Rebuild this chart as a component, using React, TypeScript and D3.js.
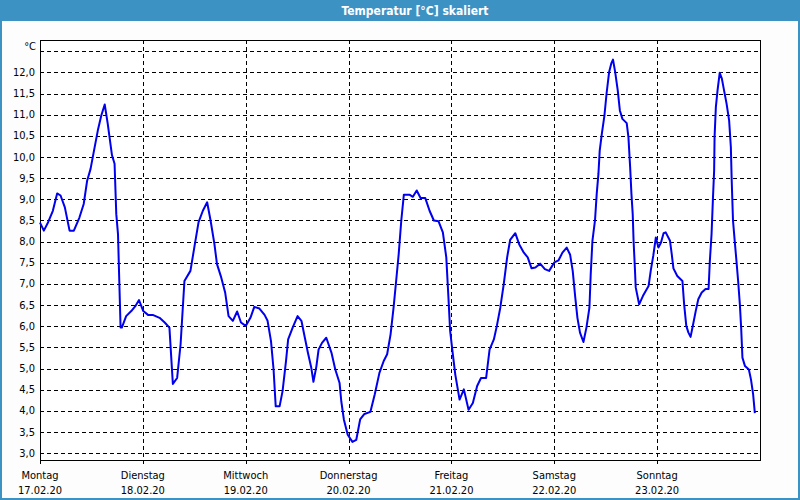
import React from "react";
import * as d3 from "d3";

const title = "Temperatur [°C] skaliert";
const unitLabel = "°C";
const dayNames = ["Montag", "Dienstag", "Mittwoch", "Donnerstag", "Freitag", "Samstag", "Sonntag"];
const dayDates = ["17.02.20", "18.02.20", "19.02.20", "20.02.20", "21.02.20", "22.02.20", "23.02.20"];
const dayHours = [0, 24, 48, 72, 96, 120, 144];
const yTickValues = [3, 3.5, 4, 4.5, 5, 5.5, 6, 6.5, 7, 7.5, 8, 8.5, 9, 9.5, 10, 10.5, 11, 11.5, 12, 12.5];
const yLabelValues = [3, 3.5, 4, 4.5, 5, 5.5, 6, 6.5, 7, 7.5, 8, 8.5, 9, 9.5, 10, 10.5, 11, 11.5, 12];

// hours since Monday 17.02.20 00:00
const hours = [
  0.0, 0.9, 1.9, 3.0, 4.0, 4.8, 5.8, 6.9, 7.9, 9.2, 10.2, 11.0, 11.8, 12.6, 13.5, 14.3, 15.1, 15.8, 16.8, 17.4,
  17.8, 18.2, 18.5, 18.8, 19.1, 20.1, 21.3, 22.2, 23.1, 24.1, 25.2, 26.3, 27.9, 29.1, 30.2, 31.0, 32.0, 32.8,
  33.7, 35.1, 36.0, 37.0, 38.0, 39.0, 39.8, 40.7, 41.3, 42.3, 43.2, 44.0, 45.0, 46.0, 46.9, 48.0, 49.1, 50.0,
  51.2, 52.4, 53.1, 53.9, 54.5, 55.0, 55.9, 56.6, 57.4, 57.9, 59.0, 60.1,
  61.0, 61.8, 62.5, 63.3, 63.8, 64.5, 65.0, 65.8, 66.8, 68.0, 68.9, 69.9, 70.3, 70.9, 71.8, 72.9, 73.8, 74.7,
  75.7, 77.1, 78.1, 79.2, 80.2, 81.0, 81.8, 82.5, 83.1, 83.7, 84.3, 84.9, 86.2, 87.0, 87.9, 88.8, 89.9, 90.9,
  91.9, 93.0, 94.0, 94.8, 95.3, 95.7, 96.2, 96.9, 97.9, 98.9, 100.0, 101.0, 102.0, 102.9, 104.1, 104.9, 105.9,
  106.6, 107.4, 108.2, 109.0, 109.7, 110.9, 111.8, 112.9, 113.8, 114.7, 115.6, 116.7, 117.8, 118.8,
  120.0, 121.0, 121.9, 122.9, 123.7, 124.3, 124.9, 125.4, 126.0, 126.8, 127.5, 128.2, 128.5, 128.9, 129.5,
  129.9, 130.3, 130.6, 131.1, 131.7, 132.2, 132.8, 133.3, 133.7, 134.2, 134.8, 135.3, 135.9, 136.9, 137.3,
  137.7, 138.0, 138.3, 138.5, 138.8, 139.0, 139.8, 140.7, 142.0, 142.5, 143.1, 143.7, 144.3, 144.9, 145.5,
  146.0, 147.0, 147.4, 147.8, 148.7, 149.9, 150.3, 150.8, 151.3, 151.8, 152.4, 153.0, 153.6, 154.4, 155.3,
  156.0, 156.3, 156.7, 157.0, 157.3, 157.4, 157.7, 158.1, 158.6, 159.1, 159.6, 160.2, 160.8, 161.2, 161.4,
  161.7, 162.1, 162.5, 162.9, 163.3, 163.6, 163.9, 164.5, 165.4, 165.9, 166.4, 166.8,
];

const temps = [
  8.45, 8.26, 8.46, 8.73, 9.14, 9.09, 8.81, 8.26, 8.26, 8.57, 8.89, 9.44, 9.72, 10.15, 10.63, 10.98, 11.24, 10.79, 10.04, 9.84,
  8.65, 8.18, 7.07, 5.97, 5.97, 6.24, 6.36, 6.47, 6.62, 6.36, 6.27, 6.27, 6.2, 6.09, 5.97, 4.64, 4.78, 5.57,
  7.07, 7.31, 7.86, 8.46, 8.73, 8.93, 8.5, 7.94, 7.47, 7.15, 6.8, 6.24, 6.13, 6.35, 6.09, 6.01, 6.2, 6.46,
  6.42, 6.27, 6.13, 5.65, 4.98, 4.11, 4.11, 4.47, 5.18, 5.69, 5.98, 6.24,
  6.13, 5.73, 5.38, 5.02, 4.69, 5.06, 5.45, 5.61, 5.73, 5.38, 4.98, 4.66, 4.23, 3.8, 3.44, 3.27, 3.32, 3.8,
  3.93, 3.98, 4.39, 4.9, 5.18, 5.34, 5.81, 6.44, 7.07, 7.71, 8.5, 9.11, 9.11, 9.06, 9.21, 9.03, 9.03, 8.73,
  8.5, 8.48, 8.22, 7.63, 6.68, 5.89, 5.45, 4.86, 4.27, 4.51, 4.03, 4.19, 4.59, 4.78, 4.78, 5.45, 5.69,
  6.01, 6.44, 6.99, 7.63, 8.04, 8.2, 7.94, 7.74, 7.63, 7.37, 7.39, 7.48, 7.35, 7.31,
  7.51, 7.56, 7.74, 7.86, 7.69, 7.31, 6.68, 6.2, 5.85, 5.63, 5.97, 6.44, 7.23, 8.02, 8.5,
  9.13, 9.6, 10.15, 10.55, 10.98, 11.5, 12.01, 12.21, 12.3, 12.01, 11.58, 11.1, 10.9, 10.8, 10.47,
  9.76, 9.13, 8.65, 8.02, 7.39, 6.92, 6.52, 6.72, 6.95, 7.31, 7.67, 8.1, 7.86, 7.98, 8.2,
  8.22, 8.02, 7.71, 7.37, 7.19, 7.07, 6.52, 6.01, 5.85, 5.75, 6.05, 6.36, 6.64, 6.8, 6.88,
  6.88, 7.55, 8.18, 8.97, 9.68, 10.47, 11.18, 11.58, 11.99, 11.85, 11.58, 11.26, 10.86, 10.23, 9.44,
  8.5, 8.02, 7.55, 7.07, 6.52, 5.97, 5.26, 5.06, 4.98, 4.74, 4.39, 3.95,
];

const W = 800;
const H = 500;
const plot = { left: 40, right: 760, top: 40, bottom: 460 };
const FONT = "'DejaVu Sans Condensed', 'Liberation Sans', sans-serif";

export default function App() {
  const x = d3.scaleLinear().domain([0, 168]).range([plot.left, plot.right]);
  const y = d3.scaleLinear().domain([2.842, 12.764]).range([plot.bottom, plot.top]);
  const data = hours.map((h, i) => [h, temps[i]] as [number, number]);
  const line = d3
    .line<[number, number]>()
    .x((d) => x(d[0]))
    .y((d) => y(d[1]));
  const fmt = (v: number) => d3.format(".1f")(v).replace(".", ",");
  const snap = (v: number) => Math.round(v) + 0.5;

  return (
    <svg
      width={W}
      height={H}
      style={{ position: "absolute", left: 0, top: 0, display: "block" }}
      fontFamily={FONT}
    >
      <rect x={0} y={0} width={W} height={H} fill="#3d92c4" />
      <rect x={2} y={21} width={W - 4} height={H - 23} fill="#fcfdfc" />
      <text x={415} y={11} textAnchor="middle" dominantBaseline="central" fill="#ffffff" fontWeight="bold" fontSize={12}>
        {title}
      </text>
      <rect x={plot.left + 0.5} y={plot.top + 0.5} width={plot.right - plot.left} height={plot.bottom - plot.top} fill="#ffffff" />
      {yTickValues.map((v) => (
        <line
          key={"gy" + v}
          x1={plot.left}
          x2={plot.right}
          y1={snap(y(v))}
          y2={snap(y(v))}
          stroke="#000"
          strokeWidth={1}
          strokeDasharray="4,3"
          shapeRendering="crispEdges"
        />
      ))}
      {dayHours.slice(1).map((h) => (
        <line
          key={"gx" + h}
          x1={snap(x(h))}
          x2={snap(x(h))}
          y1={plot.top}
          y2={plot.bottom}
          stroke="#000"
          strokeWidth={1}
          strokeDasharray="4,3"
          shapeRendering="crispEdges"
        />
      ))}
      {dayHours.map((h) => (
        <line key={"tk" + h} x1={snap(x(h))} x2={snap(x(h))} y1={plot.bottom} y2={plot.bottom + 4} stroke="#000" shapeRendering="crispEdges" />
      ))}
      <rect
        x={plot.left + 0.5}
        y={plot.top + 0.5}
        width={plot.right - plot.left}
        height={plot.bottom - plot.top}
        fill="none"
        stroke="#000"
        strokeWidth={1}
        shapeRendering="crispEdges"
      />
      <path d={line(data) || ""} fill="none" stroke="#0000ee" strokeWidth={2} strokeLinejoin="round" />
      {yLabelValues.map((v) => (
        <text key={"yl" + v} x={35} y={y(v)} textAnchor="end" dominantBaseline="central" fontSize={11} fill="#000">
          {fmt(v)}
        </text>
      ))}
      <text x={36} y={46} textAnchor="end" dominantBaseline="central" fontSize={11} fill="#000">
        {unitLabel}
      </text>
      {dayHours.map((h, i) => (
        <g key={"xl" + h}>
          <text x={x(h)} y={475} textAnchor="middle" dominantBaseline="central" fontSize={11} fill="#000">
            {dayNames[i]}
          </text>
          <text x={x(h)} y={490} textAnchor="middle" dominantBaseline="central" fontSize={11} fill="#000">
            {dayDates[i]}
          </text>
        </g>
      ))}
    </svg>
  );
}
